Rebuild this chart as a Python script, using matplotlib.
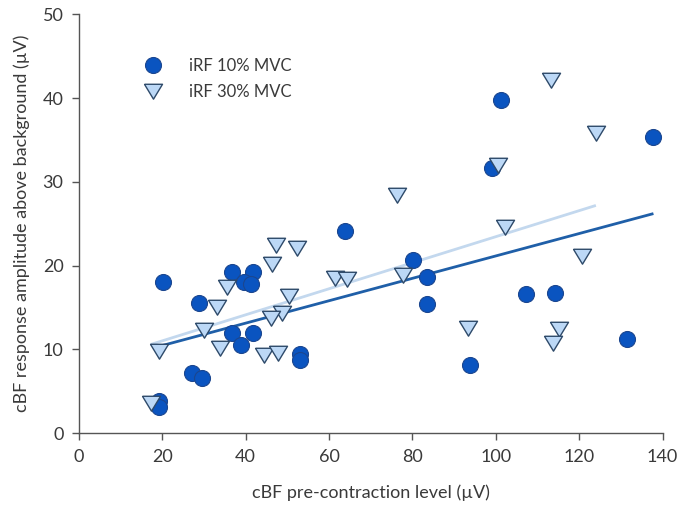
import numpy as np
import matplotlib
matplotlib.use("Agg")
import matplotlib.pyplot as plt

plt.rcParams['font.family'] = ['Lato', 'DejaVu Sans']

# iRF 10% MVC: pre-contraction level (µV) vs response amplitude (µV)
x10 = [63.8, 20.1, 36.7, 41.8, 39.5, 41.3, 28.9, 36.7, 41.7, 38.9, 53.0, 53.0, 27.1,
       29.5, 19.2, 19.2, 80.2, 83.4, 83.6, 107.2, 114.2, 93.8, 131.4, 101.2, 137.8, 99.0]
y10 = [24.1, 18.0, 19.2, 19.2, 18.1, 17.8, 15.6, 12.0, 12.0, 10.5, 9.5, 8.8, 7.2,
       6.6, 3.8, 3.1, 20.7, 18.6, 15.4, 16.6, 16.7, 8.15, 11.2, 39.8, 35.3, 31.6]

# iRF 30% MVC
x30 = [47.2, 52.3, 46.4, 35.5, 61.4, 64.2, 33.1, 50.4, 48.8, 46.0, 30.0, 33.9, 19.3,
       44.4, 47.8, 17.2, 102.2, 77.7, 120.7, 93.3, 115.2, 113.6, 113.2, 124.0, 100.6, 76.2]
y30 = [22.5, 22.1, 20.2, 17.4, 18.5, 18.4, 15.1, 16.4, 14.4, 13.7, 12.3, 10.2, 9.8,
       9.3, 9.6, 3.6, 24.6, 18.9, 21.2, 12.6, 12.5, 10.8, 42.1, 35.8, 32.0, 28.4]

x_ticks = [0, 20, 40, 60, 80, 100, 120, 140]
y_ticks = [0, 10, 20, 30, 40, 50]

dark_fill, dark_edge = '#0a54c0', '#1b468f'
light_fill, light_edge = '#bcd8f6', '#2e4a6a'
dark_line, light_line = '#1f5fa8', '#c3d8ee'
text_col = '#3a3a3a'

fig = plt.figure(figsize=(6.78, 5.14), dpi=100)
ax = fig.add_axes([0.1162, 0.157, 0.8611, 0.8152])

# least-squares trend lines over each series' range
for xs, ys, col in ((x30, y30, light_line), (x10, y10, dark_line)):
    xs_a, ys_a = np.asarray(xs), np.asarray(ys)
    k, b = np.polyfit(xs_a, ys_a, 1)
    xr = np.array([xs_a.min(), xs_a.max()])
    ax.plot(xr, k * xr + b, color=col, lw=2.0, zorder=2, solid_capstyle='butt')

tri = [(-1.0, 0.8), (1.0, 0.8), (0.0, -0.85), (-1.0, 0.8)]
ax.plot(x10, y10, linestyle='none', marker='o', ms=11.5, mfc=dark_fill, mec=dark_edge,
        mew=0.8, zorder=3, label='iRF 10% MVC')
ax.plot(x30, y30, linestyle='none', marker=tri, ms=13, mfc=light_fill, mec=light_edge,
        mew=1.0, zorder=4, label='iRF 30% MVC')

ax.set_xlim(0, 140)
ax.set_ylim(0, 50)
ax.set_xticks(x_ticks)
ax.set_yticks(y_ticks)
for s in ('top', 'right'):
    ax.spines[s].set_visible(False)
for s in ('left', 'bottom'):
    ax.spines[s].set_color('#555555')
    ax.spines[s].set_linewidth(1.0)
ax.tick_params(direction='out', length=5, width=1.0, color='#555555',
               labelsize=13, labelcolor=text_col, pad=6)
ax.set_xlabel('cBF pre-contraction level (µV)', fontsize=13, color=text_col, labelpad=14)
ax.set_ylabel('cBF response amplitude above background (µV)', fontsize=13,
              color=text_col, labelpad=9)

ax.legend(loc='upper left', bbox_to_anchor=(0.087, 0.911), frameon=False, fontsize=12,
          handletextpad=1.15, labelspacing=0.6, borderaxespad=0, labelcolor=text_col)

fig.savefig('out.png', dpi=100)
